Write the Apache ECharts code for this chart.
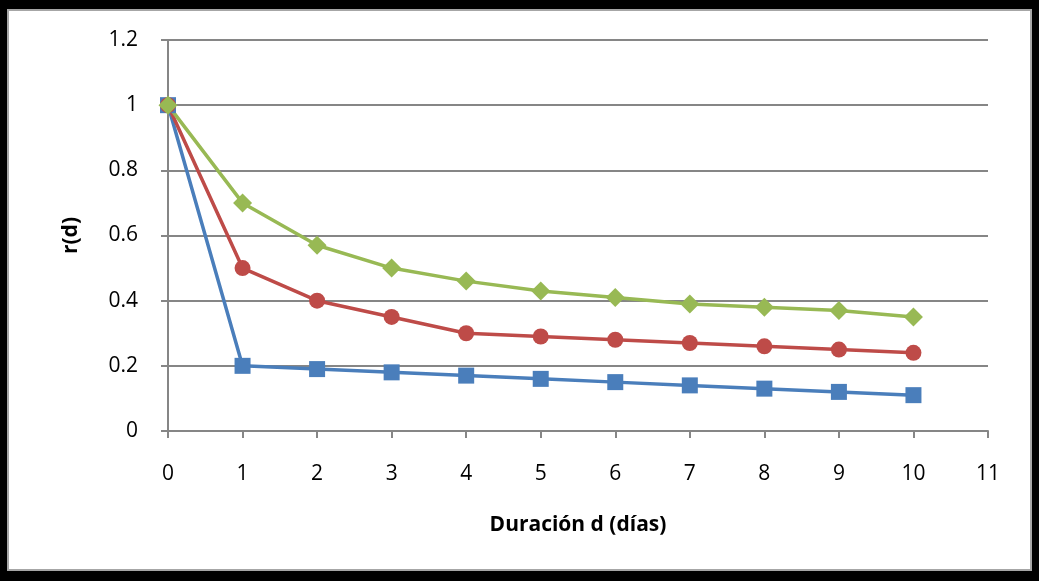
<!DOCTYPE html>
<html><head><meta charset="utf-8">
<script src="https://cdn.jsdelivr.net/npm/echarts@6/dist/echarts.min.js"></script>
<style>
html,body{margin:0;padding:0;background:#000;width:1039px;height:581px;overflow:hidden}
#frame{position:absolute;left:7px;top:9px;width:1021px;height:558px;background:#fff;border:2px solid #a6a6a6}
#chart{position:absolute;left:0;top:0;width:1039px;height:581px}
</style></head>
<body>
<div id="frame"></div>
<div id="chart"></div>
<script>
const days = [0,1,2,3,4,5,6,7,8,9,10];
const blueSeries = [1,0.2,0.19,0.18,0.17,0.16,0.15,0.14,0.13,0.12,0.11];
const redSeries = [1,0.5,0.4,0.35,0.3,0.29,0.28,0.27,0.26,0.25,0.24];
const greenSeries = [1,0.7,0.57,0.5,0.46,0.43,0.41,0.39,0.38,0.37,0.35];
const xTitle = 'Duración d (días)';
const yTitle = 'r(d)';

const font = 'Open Sans';
function pairs(v){return days.map((d,i)=>[d,v[i]]);}
function mk(name,data,color,symbol,size){
  return {name,type:'line',data:pairs(data),symbol,symbolSize:size,
    lineStyle:{color,width:3.5},itemStyle:{color},z:3};
}
const chart = echarts.init(document.getElementById('chart'));
chart.setOption({
  backgroundColor:'transparent',
  animation:false,
  grid:{left:168,right:51,top:40,bottom:150},
  xAxis:{type:'value',min:0,max:11,interval:1,
    name:xTitle,nameLocation:'middle',nameGap:84,
    nameTextStyle:{fontFamily:font,fontSize:21,fontWeight:'bold',color:'#000'},
    axisLine:{lineStyle:{color:'#868686',width:2}},
    axisTick:{show:true,length:7,lineStyle:{color:'#868686',width:2}},
    axisLabel:{fontFamily:font,fontSize:21,color:'#000',margin:33},
    splitLine:{show:false}},
  yAxis:{type:'value',min:0,max:1.2,interval:0.2,
    name:yTitle,nameLocation:'middle',nameGap:86,
    nameTextStyle:{fontFamily:font,fontSize:21,fontWeight:'bold',color:'#000'},
    axisLine:{show:true,lineStyle:{color:'#868686',width:2}},
    axisTick:{show:true,length:7,lineStyle:{color:'#868686',width:2}},
    axisLabel:{fontFamily:font,fontSize:21,color:'#000',margin:30},
    splitLine:{lineStyle:{color:'#868686',width:2}}},
  series:[
    mk('A',blueSeries,'#4A7EBB','rect',16),
    mk('B',redSeries,'#BE4B48','circle',16),
    mk('C',greenSeries,'#98B954','diamond',19)
  ]
});
</script>
</body></html>
